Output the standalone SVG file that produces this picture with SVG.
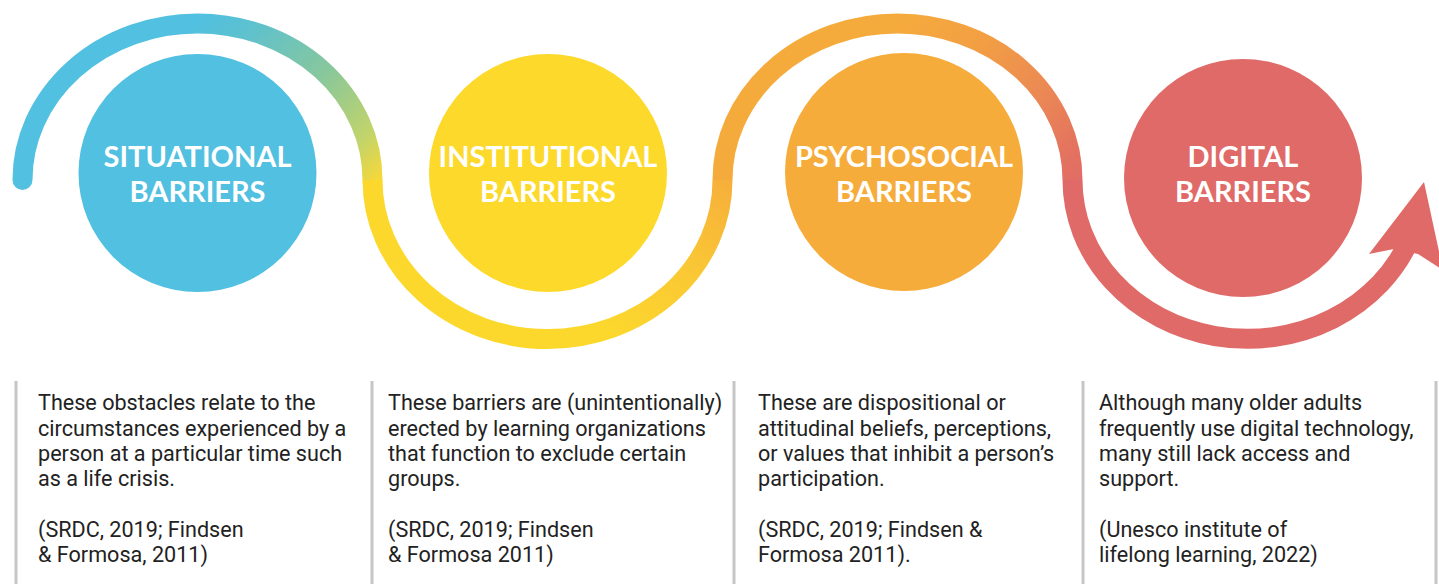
<svg xmlns="http://www.w3.org/2000/svg" width="1439" height="584" viewBox="0 0 1439 584">
<style>
.node-label{font-family:Lato,"Open Sans","Liberation Sans",sans-serif;font-weight:700;font-size:29px;fill:#ffffff;text-anchor:middle}
.desc{font-family:Roboto,"Liberation Sans",sans-serif;font-size:21.6px;fill:#222222}
.sep{stroke:#c6c6c6;stroke-width:3}
.wave{fill:none;stroke-width:20}
</style>
<defs>
<linearGradient id="gA" gradientUnits="userSpaceOnUse" x1="200" y1="20" x2="372" y2="200">
<stop offset="0" stop-color="#52c0e0"/>
<stop offset="0.15" stop-color="#5cc1d0"/>
<stop offset="0.5" stop-color="#88c79c"/>
<stop offset="0.8" stop-color="#c2d46a"/>
<stop offset="0.95" stop-color="#f4d83c"/>
<stop offset="1" stop-color="#fcd82c"/>
</linearGradient>
<linearGradient id="gB" gradientUnits="userSpaceOnUse" x1="600" y1="330" x2="723" y2="170">
<stop offset="0" stop-color="#fcd82c"/>
<stop offset="0.5" stop-color="#fac834"/>
<stop offset="1" stop-color="#f6ae3b"/>
</linearGradient>
<linearGradient id="gC" gradientUnits="userSpaceOnUse" x1="900" y1="20" x2="1072" y2="200">
<stop offset="0" stop-color="#f5ab3c"/>
<stop offset="0.3" stop-color="#f29e44"/>
<stop offset="0.6" stop-color="#eb8954"/>
<stop offset="0.85" stop-color="#e4735f"/>
<stop offset="1" stop-color="#e06a68"/>
</linearGradient>
</defs>
<rect width="1439" height="584" fill="#ffffff"/>
<g id="connectors">
<path class="wave" d="M 22.5 180 A 175 156.5 0 0 1 372.5 180" stroke="url(#gA)" stroke-linecap="round"/>
<path class="wave" d="M 372.5 180 A 175 159 0 0 0 722.5 180" stroke="url(#gB)"/>
<path class="wave" d="M 722.5 180 A 175 156.5 0 0 1 1072.5 180" stroke="url(#gC)"/>
<path class="wave" d="M 1072.5 180 A 175 159 0 0 0 1410.4 237.9" stroke="#e06a68"/>
<polygon points="1424,182 1369,254 1394,249 1418,254 1443,270" fill="#e06a68"/>
</g>
<g id="situational">
<circle cx="197.5" cy="173" r="119" fill="#52c0e0"/>
<text class="node-label" x="197.5" y="167">SITUATIONAL</text>
<text class="node-label" x="197.5" y="202">BARRIERS</text>
</g>
<g id="institutional">
<circle cx="548" cy="173" r="119" fill="#fcd92b"/>
<text class="node-label" x="548" y="167">INSTITUTIONAL</text>
<text class="node-label" x="548" y="202">BARRIERS</text>
</g>
<g id="psychosocial">
<circle cx="904" cy="172" r="119" fill="#f6ac3b"/>
<text class="node-label" x="904" y="167">PSYCHOSOCIAL</text>
<text class="node-label" x="904" y="202">BARRIERS</text>
</g>
<g id="digital">
<circle cx="1243" cy="178" r="119" fill="#e06a68"/>
<text class="node-label" x="1243" y="167">DIGITAL</text>
<text class="node-label" x="1243" y="202">BARRIERS</text>
</g>
<g id="separators">
<line class="sep" x1="16" y1="381" x2="16" y2="584"/>
<line class="sep" x1="372" y1="381" x2="372" y2="584"/>
<line class="sep" x1="734" y1="381" x2="734" y2="584"/>
<line class="sep" x1="1083" y1="381" x2="1083" y2="584"/>
<line class="sep" x1="1436" y1="381" x2="1436" y2="584"/>
</g>
<g id="desc-situational">
<text class="desc" x="38" y="410">These obstacles relate to the</text>
<text class="desc" x="38" y="435.5">circumstances experienced by a</text>
<text class="desc" x="38" y="461">person at a particular time such</text>
<text class="desc" x="38" y="486">as a life crisis.</text>
<text class="desc" x="38" y="537">(SRDC, 2019; Findsen</text>
<text class="desc" x="38" y="562">&amp; Formosa, 2011)</text>
</g>
<g id="desc-institutional">
<text class="desc" x="388" y="410">These barriers are (unintentionally)</text>
<text class="desc" x="388" y="435.5">erected by learning organizations</text>
<text class="desc" x="388" y="461">that function to exclude certain</text>
<text class="desc" x="388" y="486">groups.</text>
<text class="desc" x="388" y="537">(SRDC, 2019; Findsen</text>
<text class="desc" x="388" y="562">&amp; Formosa 2011)</text>
</g>
<g id="desc-psychosocial">
<text class="desc" x="758" y="410">These are dispositional or</text>
<text class="desc" x="758" y="435.5">attitudinal beliefs, perceptions,</text>
<text class="desc" x="758" y="461">or values that inhibit a person’s</text>
<text class="desc" x="758" y="486">participation.</text>
<text class="desc" x="758" y="537">(SRDC, 2019; Findsen &amp;</text>
<text class="desc" x="758" y="562">Formosa 2011).</text>
</g>
<g id="desc-digital">
<text class="desc" x="1099" y="410">Although many older adults</text>
<text class="desc" x="1099" y="435.5">frequently use digital technology,</text>
<text class="desc" x="1099" y="461">many still lack access and</text>
<text class="desc" x="1099" y="486">support.</text>
<text class="desc" x="1099" y="537">(Unesco institute of</text>
<text class="desc" x="1099" y="562">lifelong learning, 2022)</text>
</g>
</svg>
